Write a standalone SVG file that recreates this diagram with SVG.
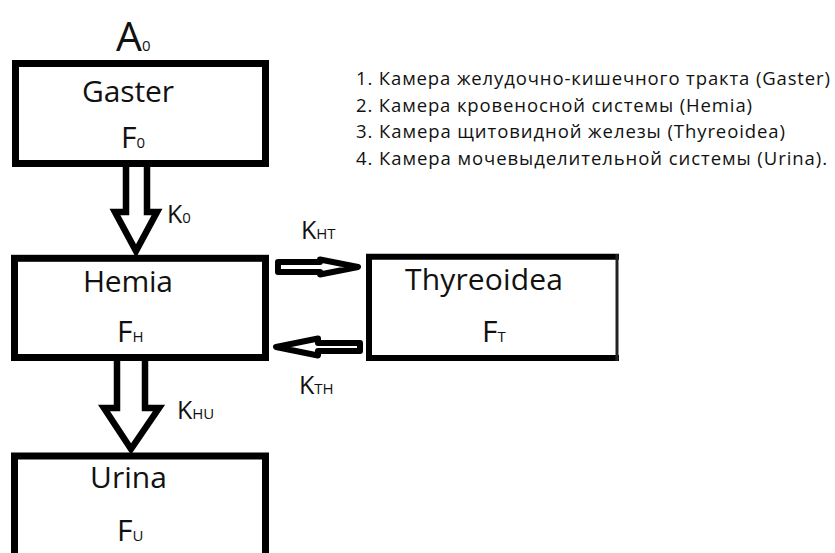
<svg xmlns="http://www.w3.org/2000/svg" width="835" height="553" viewBox="0 0 835 553">
<style>
.box{fill:#fff;stroke:#000;stroke-width:7}
.arr{fill:#fff;stroke:#000;stroke-width:6.5;stroke-linejoin:miter;stroke-miterlimit:10}
.harr{fill:#fff;stroke:#000;stroke-width:6;stroke-linejoin:round}
.t{font-family:"Open Sans","Noto Sans","Liberation Sans",sans-serif;fill:#111}
.big{font-size:30px}
.lbl{font-size:25px}
.sub{font-size:15px}
.list{font-size:18.5px}
</style>
<rect width="835" height="553" fill="#fff"/>
<g id="connectors">
<path class="arr" d="M126,165 V212 H115 L136,251 L157,212 H147 V165"/>
<path class="arr" d="M117,359 V408 H104 L131,449 L159,408 H145 V359"/>
<path class="harr" d="M278,262 H320 V259.5 L358,267 L320,274.5 V272 H278 Z"/>
<path class="harr" d="M360,343 H318 V338.5 L276,347 L318,355.5 V351 H360 Z"/>
<text class="t lbl" x="167" y="223">K<tspan class="sub">0</tspan></text>
<text class="t lbl" x="177" y="419">K<tspan class="sub">HU</tspan></text>
<text class="t lbl" x="301" y="239">K<tspan class="sub">HT</tspan></text>
<text class="t lbl" x="299" y="394">K<tspan class="sub">TH</tspan></text>
</g>
<g id="a0">
<text class="t" x="116" y="51" font-size="41">A<tspan class="sub" font-size="15">0</tspan></text>
</g>
<g id="gaster">
<rect class="box" x="15.5" y="63.5" width="250" height="100"/>
<text class="t big" x="82" y="102" textLength="92">Gaster</text>
<text class="t big" x="121" y="148">F<tspan class="sub">0</tspan></text>
</g>
<g id="hemia">
<rect class="box" x="14.5" y="258.3" width="251" height="99.2"/>
<text class="t big" x="83" y="292" textLength="90">Hemia</text>
<text class="t big" x="117" y="342">F<tspan class="sub">H</tspan></text>
</g>
<g id="thyreoidea">
<path d="M619,256.7 H369 V358 H619" fill="#fff" stroke="#000" stroke-width="6"/>
<line x1="617" y1="254" x2="617" y2="361" stroke="#222" stroke-width="3"/>
<text class="t big" x="405" y="290" textLength="158">Thyreoidea</text>
<text class="t big" x="482" y="342">F<tspan class="sub">T</tspan></text>
</g>
<g id="urina">
<rect class="box" x="14.5" y="456" width="251" height="120"/>
<text class="t big" x="90" y="488" textLength="77">Urina</text>
<text class="t big" x="117" y="541">F<tspan class="sub">U</tspan></text>
</g>
<g id="legend">
<text class="t list" x="356" y="85" textLength="474">1. Камера желудочно-кишечного тракта (Gaster)</text>
<text class="t list" x="356" y="111.5" textLength="396">2. Камера кровеносной системы (Hemia)</text>
<text class="t list" x="356" y="138" textLength="429">3. Камера щитовидной железы (Thyreoidea)</text>
<text class="t list" x="356" y="164.5" textLength="471">4. Камера мочевыделительной системы (Urina).</text>
</g>
</svg>
